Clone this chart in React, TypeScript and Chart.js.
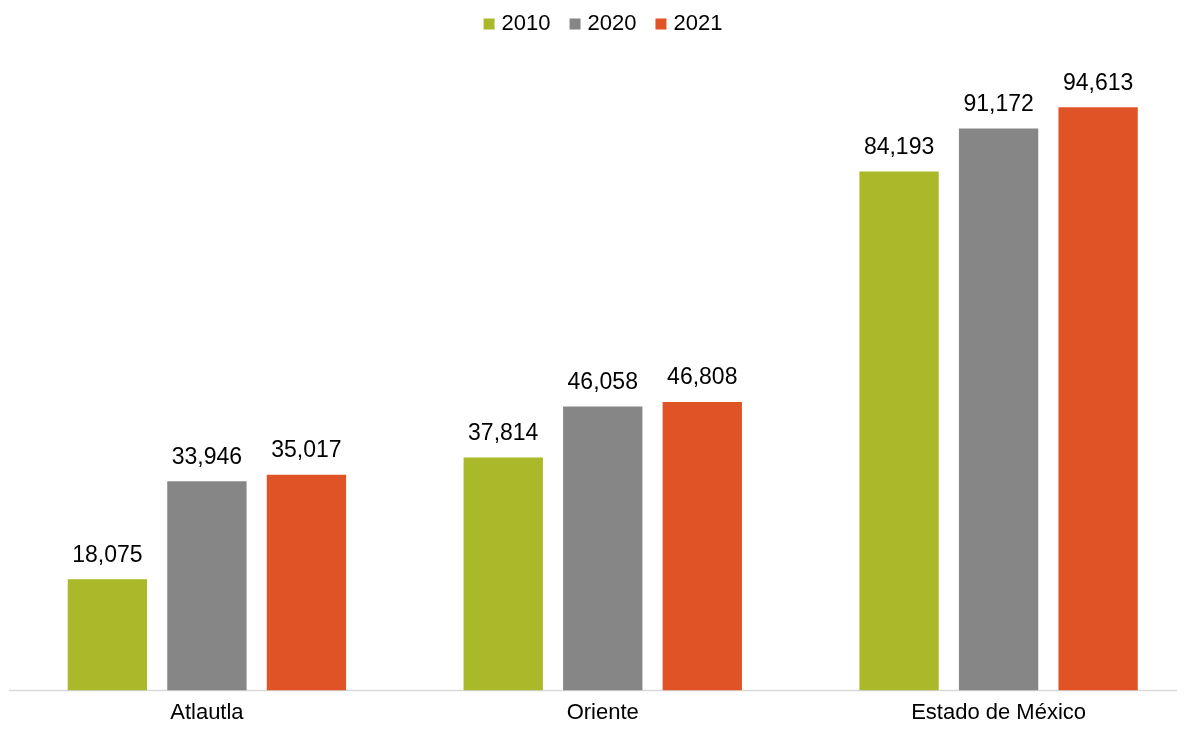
import React, { useEffect, useRef } from "react";
import { Chart, registerables } from "chart.js";

Chart.register(...registerables);

const categories = ["Atlautla", "Oriente", "Estado de México"];
const seriesNames = ["2010", "2020", "2021"];
const values2010 = [18075, 37814, 84193];
const values2020 = [33946, 46058, 91172];
const values2021 = [35017, 46808, 94613];
const colors = ["#A9B92A", "#868686", "#E05326"];
const yMax = 100000;

const FONT = "'Liberation Sans', Arial, sans-serif";

const dataLabelPlugin = {
  id: "dataLabels",
  afterDatasetsDraw(chart: any) {
    const ctx = chart.ctx;
    ctx.save();
    ctx.font = `23px ${FONT}`;
    ctx.fillStyle = "#000000";
    ctx.textAlign = "center";
    ctx.textBaseline = "alphabetic";
    chart.data.datasets.forEach((ds: any, i: number) => {
      const meta = chart.getDatasetMeta(i);
      meta.data.forEach((bar: any, j: number) => {
        const v = ds.data[j] as number;
        ctx.fillText(v.toLocaleString("en-US"), bar.x, bar.y - 17.5);
      });
    });
    ctx.restore();
  },
};

const axisLinePlugin = {
  id: "axisLine",
  beforeDatasetsDraw(chart: any) {
    const ctx = chart.ctx;
    const area = chart.chartArea;
    ctx.save();
    ctx.strokeStyle = "#d9d9d9";
    ctx.lineWidth = 1.5;
    ctx.beginPath();
    ctx.moveTo(area.left, area.bottom);
    ctx.lineTo(chart.width, area.bottom);
    ctx.stroke();
    ctx.restore();
  },
};

const legendPlugin = {
  id: "customLegend",
  afterDraw(chart: any) {
    const ctx = chart.ctx;
    ctx.save();
    ctx.font = `22px ${FONT}`;
    const box = 11;
    const gap = 7;
    const spacing = 19;
    const items = chart.data.datasets.map((ds: any) => ({
      label: ds.label as string,
      color: ds.backgroundColor as string,
      w: ctx.measureText(ds.label).width,
    }));
    const total =
      items.reduce((s: number, it: any) => s + box + gap + it.w, 0) +
      spacing * (items.length - 1);
    let x = chart.width / 2 - total / 2;
    const baseline = 22;
    items.forEach((it: any) => {
      ctx.fillStyle = it.color;
      ctx.fillRect(x, 10.5, box, box);
      ctx.fillStyle = "#000000";
      ctx.textAlign = "left";
      ctx.textBaseline = "alphabetic";
      ctx.fillText(it.label, x + box + gap, baseline);
      x += box + gap + it.w + spacing;
    });
    ctx.restore();
  },
};

export default function App() {
  const canvasRef = useRef<HTMLCanvasElement | null>(null);

  useEffect(() => {
    document.body.style.overflow = "hidden";
    if (!canvasRef.current) return;
    const allValues = [values2010, values2020, values2021];
    const chart = new Chart(canvasRef.current, {
      type: "bar",
      data: {
        labels: categories,
        datasets: seriesNames.map((name, i) => ({
          label: name,
          data: allValues[i],
          backgroundColor: colors[i],
          borderWidth: 0,
          categoryPercentage: 0.7543,
          barPercentage: 0.797,
        })),
      },
      options: {
        responsive: false,
        animation: false,
        layout: { padding: { top: 66, left: 1, right: 1.5, bottom: 5 } },
        plugins: {
          legend: { display: false },
          tooltip: { enabled: false },
        },
        scales: {
          x: {
            grid: { display: false, drawTicks: false },
            border: { display: false },
            ticks: {
              color: "#000000",
              font: { family: FONT, size: 22 },
              padding: 9,
              maxRotation: 0,
            },
          },
          y: {
            display: false,
            min: 0,
            max: yMax,
          },
        },
      },
      plugins: [axisLinePlugin, dataLabelPlugin, legendPlugin],
    });
    return () => chart.destroy();
  }, []);

  return (
    <div style={{ width: 1190, height: 715, overflow: "hidden" }}>
      <canvas ref={canvasRef} width={1190} height={732} style={{ display: "block" }} />
    </div>
  );
}
